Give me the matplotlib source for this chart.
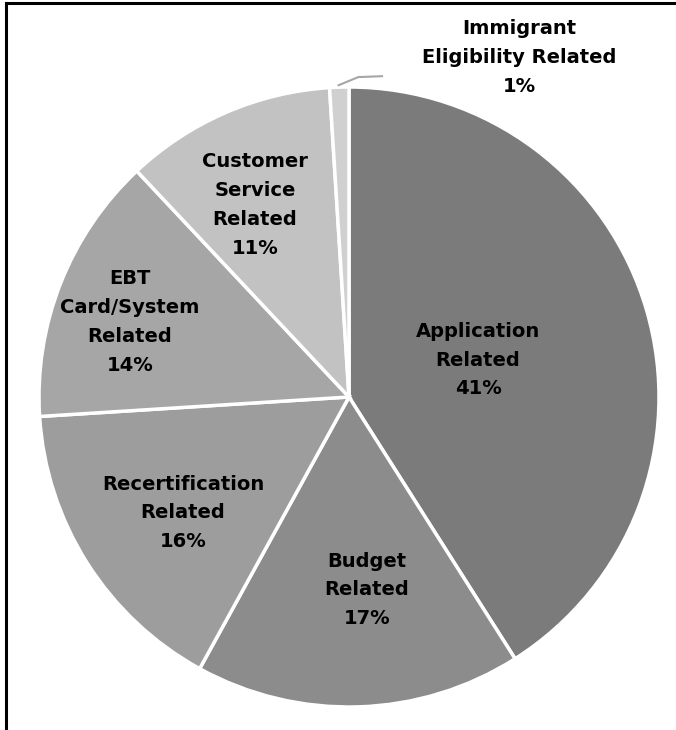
import numpy as np
import matplotlib.pyplot as plt
from matplotlib.lines import Line2D

labels = ["Application\nRelated", "Budget\nRelated", "Recertification\nRelated",
          "EBT\nCard/System\nRelated", "Customer\nService\nRelated",
          "Immigrant\nEligibility Related"]
shares = [41, 17, 16, 14, 11, 1]
colors = ["#7b7b7b", "#8c8c8c", "#9d9d9d", "#a6a6a6", "#c2c2c2", "#d0d0d0"]
# label placement: fraction of radius and angle nudge (deg) from the wedge middle
label_r = [0.433, 0.625, 0.653, 0.747, 0.69, 1.15]
label_nudge = [-0.2, 3.5, 2.5, 2.7, 2.7, 0]

W, H = 676, 730
cx, cy, R = 349, 397, 310

fig = plt.figure(figsize=(W / 100, H / 100), dpi=100)
ax = fig.add_axes([0, 0, 1, 1])

wedges, _ = ax.pie(shares, colors=colors, startangle=90, counterclock=False,
                   radius=1, wedgeprops=dict(edgecolor="white", linewidth=2.5))

ax.set_xlim(-cx / R, (W - cx) / R)
ax.set_ylim(-(H - cy) / R, cy / R)
ax.set_aspect("equal")
ax.axis("off")

font = dict(family="DejaVu Sans", weight="bold", size=14, color="black",
            ha="center", va="center", linespacing=1.65)

for w, lab, val, r, nd in zip(wedges, labels, shares, label_r, label_nudge):
    mid = np.deg2rad((w.theta1 + w.theta2) / 2 + nd)
    x, y = r * np.cos(mid), r * np.sin(mid)
    if val < 5:
        # small slice gets its label outside with a leader line
        x, y = 0.55, 1.095
        ex, ey = np.cos(mid), np.sin(mid)
        ax.plot([ex - 0.005, 0.03, 0.11], [ey + 0.005, 1.032, 1.035],
                color="#a6a6a6", lw=1.5, solid_capstyle="butt")
    ax.text(x, y, f"{lab}\n{val}%", **font)

# outer frame (left and top edges show)
fig.add_artist(Line2D([6 / W, 6 / W], [0, 1 - 3 / H], color="black", lw=2.2,
                      transform=fig.transFigure))
fig.add_artist(Line2D([6 / W, 1], [1 - 3 / H, 1 - 3 / H], color="black", lw=2.2,
                      transform=fig.transFigure))

fig.savefig("out.png", dpi=100)
